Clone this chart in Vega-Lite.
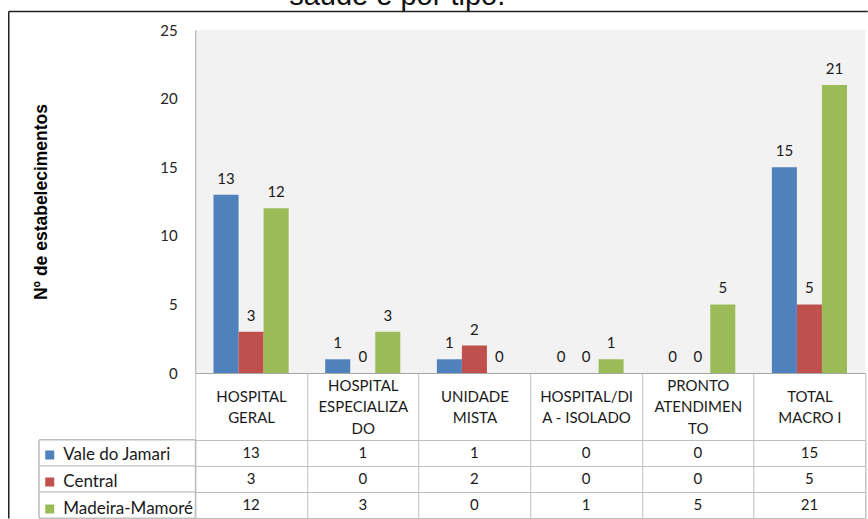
{
  "$schema": "https://vega.github.io/schema/vega-lite/v6.json",
  "background": "white",
  "padding": {"left": 8.25, "right": 0, "top": -18, "bottom": -1},
  "title": {"text": "saúde e por tipo.", "font": "Liberation Sans", "fontSize": 29, "fontWeight": "normal", "color": "#111111", "anchor": "middle", "frame": "bounds", "offset": -23, "baseline": "alphabetic", "dx": -134},
  "datasets": {
    "d": [
      {"category": "HOSPITAL GERAL", "series": "Vale do Jamari", "value": 13},
      {"category": "HOSPITAL GERAL", "series": "Central", "value": 3},
      {"category": "HOSPITAL GERAL", "series": "Madeira-Mamoré", "value": 12},
      {"category": "HOSPITAL ESPECIALIZADO", "series": "Vale do Jamari", "value": 1},
      {"category": "HOSPITAL ESPECIALIZADO", "series": "Central", "value": 0},
      {"category": "HOSPITAL ESPECIALIZADO", "series": "Madeira-Mamoré", "value": 3},
      {"category": "UNIDADE MISTA", "series": "Vale do Jamari", "value": 1},
      {"category": "UNIDADE MISTA", "series": "Central", "value": 2},
      {"category": "UNIDADE MISTA", "series": "Madeira-Mamoré", "value": 0},
      {"category": "HOSPITAL/DIA - ISOLADO", "series": "Vale do Jamari", "value": 0},
      {"category": "HOSPITAL/DIA - ISOLADO", "series": "Central", "value": 0},
      {"category": "HOSPITAL/DIA - ISOLADO", "series": "Madeira-Mamoré", "value": 1},
      {"category": "PRONTO ATENDIMENTO", "series": "Vale do Jamari", "value": 0},
      {"category": "PRONTO ATENDIMENTO", "series": "Central", "value": 0},
      {"category": "PRONTO ATENDIMENTO", "series": "Madeira-Mamoré", "value": 5},
      {"category": "TOTAL MACRO I", "series": "Vale do Jamari", "value": 15},
      {"category": "TOTAL MACRO I", "series": "Central", "value": 5},
      {"category": "TOTAL MACRO I", "series": "Madeira-Mamoré", "value": 21}
    ]
  },
  "columns": 2,
  "bounds": "flush",
  "align": "each",
  "spacing": {"row": 67, "column": 0},
  "config": {
    "view": {"stroke": null},
    "font": "Lato",
    "legend": {"orient": "none", "legendX": 2, "legendY": 416.5, "symbolType": "square", "symbolSize": 81, "symbolStrokeWidth": 0, "labelFont": "Lato", "labelFontSize": 17, "labelColor": "#1a1a1a", "labelOffset": 5, "rowPadding": 9, "padding": 0, "symbolOffset": 0, "title": null}
  },
  "concat": [
    {
      "width": 156, "height": 343,
      "data": {"values": []},
      "mark": "point",
      "encoding": {}
    },
    {
      "width": 670, "height": 343,
      "view": {"fill": "#f2f2f2", "stroke": null},
      "layer": [
        {
          "data": {"name": "d"},
          "encoding": {
            "x": {"field": "category", "type": "nominal",
              "sort": ["HOSPITAL GERAL", "HOSPITAL ESPECIALIZADO", "UNIDADE MISTA", "HOSPITAL/DIA - ISOLADO", "PRONTO ATENDIMENTO", "TOTAL MACRO I"],
              "scale": {"paddingInner": 0, "paddingOuter": 0},
              "axis": {"title": null, "orient": "bottom", "domainColor": "#a6a6a6", "domainWidth": 1, "ticks": true, "tickColor": "#bfbfbf", "tickWidth": 1, "tickSize": 67, "tickBand": "extent", "labelAngle": 0,
                "labelPadding": {"condition": {"test": "datum.label == 'HOSPITAL ESPECIALIZADO' || datum.label == 'PRONTO ATENDIMENTO'", "value": -55}, "value": -44},
                "labelBaseline": "middle", "labelLineHeight": 21.5, "labelFont": "Lato", "labelFontSize": 15, "labelColor": "#1a1a1a", "labelOverlap": false, "labelBound": false, "labelLimit": 0,
                "labelExpr": "datum.label == 'HOSPITAL GERAL' ? ['HOSPITAL', 'GERAL'] : datum.label == 'HOSPITAL ESPECIALIZADO' ? ['HOSPITAL', 'ESPECIALIZA', 'DO'] : datum.label == 'UNIDADE MISTA' ? ['UNIDADE', 'MISTA'] : datum.label == 'HOSPITAL/DIA - ISOLADO' ? ['HOSPITAL/DI', 'A - ISOLADO'] : datum.label == 'PRONTO ATENDIMENTO' ? ['PRONTO', 'ATENDIMEN', 'TO'] : datum.label == 'TOTAL MACRO I' ? ['TOTAL', 'MACRO I'] : ''"}},
            "xOffset": {"field": "series", "type": "nominal", "sort": ["Vale do Jamari", "Central", "Madeira-Mamoré"], "scale": {"paddingInner": 0, "paddingOuter": 0.73}},
            "y": {"field": "value", "type": "quantitative", "scale": {"domain": [0, 25]},
              "axis": {"title": "Nº de estabelecimentos", "values": [0, 5, 10, 15, 20, 25], "grid": false, "ticks": false, "domainColor": "#a6a6a6", "labelPadding": 18, "labelFlush": false, "labelFont": "Lato", "labelFontSize": 15, "labelColor": "#262626", "titleFont": "Liberation Sans", "titleFontSize": 17.5, "titleFontWeight": "bold", "titleColor": "#000000", "titlePadding": 109}}
          },
          "layer": [
            {
              "mark": {"type": "bar"},
              "encoding": {
                "color": {"field": "series", "type": "nominal", "scale": {"domain": ["Vale do Jamari", "Central", "Madeira-Mamoré"], "range": ["#4f81bd", "#c0504d", "#9bbb59"]}}
              }
            },
            {
              "mark": {"type": "text", "baseline": "alphabetic", "dy": -11, "font": "Lato", "fontSize": 15, "color": "#1a1a1a"},
              "encoding": {"text": {"field": "value", "type": "quantitative"}}
            }
          ]
        },
        {
          "data": {"values": []},
          "mark": {"type": "point", "opacity": 0},
          "encoding": {
            "x": {"datum": 0, "type": "quantitative", "scale": {"domain": [0, 1], "range": [-187, 672]},
              "axis": {"orient": "top", "offset": 19, "domainColor": "#222222", "domainWidth": 1.5, "labels": false, "ticks": false, "grid": false, "title": null}},
            "y": {"datum": 0, "type": "quantitative", "scale": {"domain": [0, 1], "range": [488, -19]},
              "axis": {"orient": "left", "offset": 187, "domainColor": "#222222", "domainWidth": 1.5, "labels": false, "ticks": false, "grid": false, "title": null}}
          }
        }
      ],
      "resolve": {"scale": {"x": "independent", "y": "independent"}, "axis": {"x": "independent", "y": "independent"}}
    },
    {
      "width": 156, "height": 78,
      "data": {"name": "d"},
      "mark": {"type": "rect", "fill": "white", "stroke": "#bfbfbf", "strokeWidth": 1},
      "encoding": {
        "y": {"field": "series", "type": "nominal", "sort": ["Vale do Jamari", "Central", "Madeira-Mamoré"], "scale": {"paddingInner": 0, "paddingOuter": 0}, "axis": null}
      }
    },
    {
      "width": 670, "height": 78,
      "data": {"name": "d"},
      "view": {"stroke": "#bfbfbf"},
      "mark": {"type": "text", "font": "Lato", "fontSize": 15, "color": "#1a1a1a"},
      "encoding": {
        "x": {"field": "category", "type": "nominal",
          "sort": ["HOSPITAL GERAL", "HOSPITAL ESPECIALIZADO", "UNIDADE MISTA", "HOSPITAL/DIA - ISOLADO", "PRONTO ATENDIMENTO", "TOTAL MACRO I"],
          "scale": {"paddingInner": 0, "paddingOuter": 0},
          "axis": {"title": null, "labels": false, "ticks": false, "domain": false, "grid": true, "tickBand": "extent", "gridColor": "#bfbfbf", "gridOpacity": 1}},
        "y": {"field": "series", "type": "nominal", "sort": ["Vale do Jamari", "Central", "Madeira-Mamoré"], "scale": {"paddingInner": 0, "paddingOuter": 0},
          "axis": {"title": null, "labels": false, "ticks": false, "domain": false, "grid": true, "tickBand": "extent", "gridColor": "#bfbfbf", "gridOpacity": 1}},
        "text": {"field": "value", "type": "quantitative"}
      }
    }
  ]
}
